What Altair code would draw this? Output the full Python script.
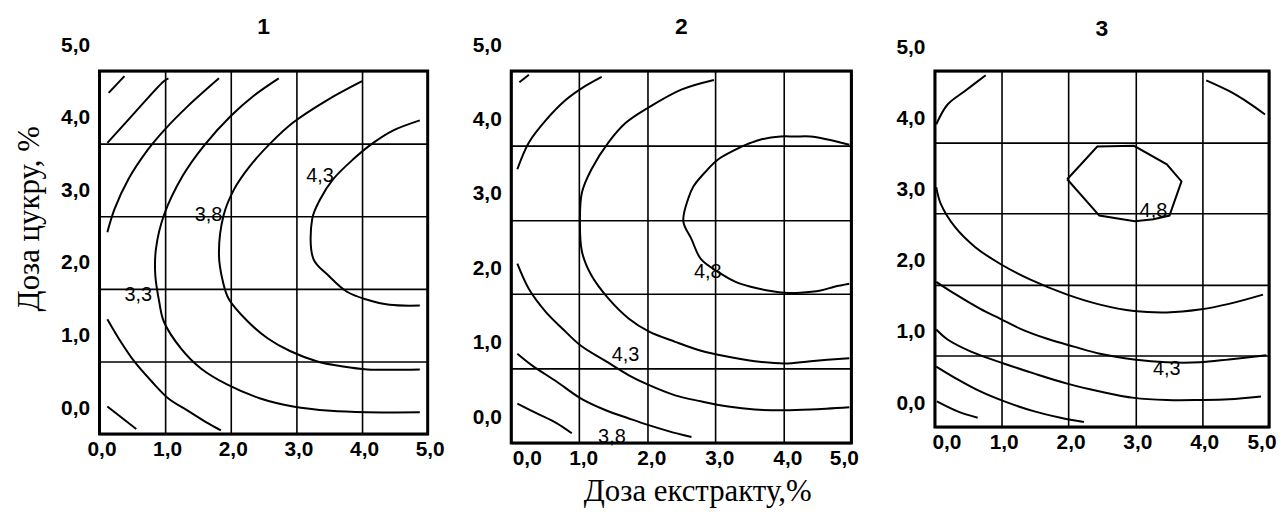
import altair as alt
import pandas as pd

TICKS = [0, 1, 2, 3, 4, 5]

# ---------- panel 1 contour lines (x = extract dose, y = position in plot box) ----------
P1_C1 = [(0.14, 4.70), (0.38, 4.93)]
P1_C2 = [(0.12, 4.01), (0.53, 4.42), (0.98, 4.86), (1.05, 4.90)]
P1_C3 = [(0.12, 2.78), (0.23, 3.10), (0.44, 3.51), (0.74, 3.92), (0.98, 4.18), (1.35, 4.52), (1.82, 4.90)]
P1_C4 = [(2.73, 4.90), (2.35, 4.66), (2.00, 4.38), (1.59, 3.97), (1.27, 3.56), (0.98, 3.01), (0.86, 2.55),
         (0.85, 2.19), (0.91, 1.82), (0.98, 1.55), (1.24, 1.18), (1.55, 0.90), (1.95, 0.68), (2.45, 0.49),
         (2.95, 0.38), (3.52, 0.32), (4.07, 0.30), (4.88, 0.30)]
P1_C5 = [(4.00, 4.86), (3.47, 4.60), (2.95, 4.29), (2.61, 4.01), (2.30, 3.70), (2.05, 3.37), (1.89, 3.01),
         (1.82, 2.47), (1.88, 2.10), (1.97, 1.86), (2.26, 1.55), (2.56, 1.32), (2.91, 1.14), (3.32, 1.00),
         (3.71, 0.93), (4.08, 0.89), (4.88, 0.89)]
P1_C6 = [(4.88, 4.32), (4.47, 4.18), (4.17, 4.01), (3.86, 3.78), (3.56, 3.51), (3.36, 3.23), (3.24, 2.96),
         (3.26, 2.41), (3.48, 2.19), (3.77, 1.96), (4.08, 1.85), (4.42, 1.78), (4.88, 1.77)]
P1_C7 = [(0.12, 1.58), (0.29, 1.32), (0.53, 1.00), (0.79, 0.73), (1.05, 0.49), (1.35, 0.32), (1.65, 0.15), (1.85, 0.05)]
P1_C8 = [(0.12, 0.38), (0.56, 0.07)]
P1_LABELS = [("3,3", 0.59, 1.91), ("3,8", 1.66, 3.01), ("4,3", 3.36, 3.55)]

# ---------- panel 2 ----------
P2_C1 = [(0.12, 4.85), (0.26, 4.95)]
P2_C2 = [(0.09, 3.68), (0.26, 4.04), (0.51, 4.34), (0.80, 4.61), (1.04, 4.77), (1.33, 4.92)]
P2_C3 = [(2.98, 4.88), (2.50, 4.75), (2.02, 4.51), (1.68, 4.30), (1.43, 4.04), (1.18, 3.68), (1.04, 3.37),
         (1.01, 3.01), (1.04, 2.57), (1.18, 2.25), (1.43, 1.94), (1.73, 1.67), (2.02, 1.50), (2.41, 1.36),
         (2.79, 1.24), (3.19, 1.16), (3.58, 1.10), (4.02, 1.07), (4.40, 1.10), (4.97, 1.14)]
P2_C4 = [(0.09, 2.41), (0.26, 2.07), (0.51, 1.76), (0.75, 1.54), (1.02, 1.31), (1.39, 1.10), (1.73, 0.91),
         (2.02, 0.78), (2.41, 0.64), (2.79, 0.56), (3.19, 0.49), (3.58, 0.45), (4.02, 0.44), (4.40, 0.45), (4.97, 0.48)]
P2_C5 = [(0.09, 1.20), (0.31, 1.04), (0.66, 0.83), (1.02, 0.60), (1.39, 0.44), (1.73, 0.33), (2.02, 0.24),
         (2.31, 0.16), (2.65, 0.08)]
P2_C6 = [(0.09, 0.53), (0.37, 0.40), (0.66, 0.27), (0.89, 0.13)]
P2_C7 = [(4.97, 4.01), (4.65, 4.08), (4.40, 4.12), (4.17, 4.12), (3.96, 4.12), (3.67, 4.08), (3.48, 4.02),
         (3.29, 3.94), (3.04, 3.81), (2.85, 3.64), (2.68, 3.45), (2.60, 3.28), (2.53, 2.98), (2.65, 2.74),
         (2.79, 2.47), (3.04, 2.30), (3.29, 2.17), (3.52, 2.10), (3.77, 2.05), (4.02, 2.02), (4.25, 2.02),
         (4.55, 2.05), (4.75, 2.10), (4.97, 2.14)]
P2_LABELS = [("4,8", 2.89, 2.30), ("4,3", 1.68, 1.18), ("3,8", 1.48, 0.08)]

# ---------- panel 3 ----------
P3_C1 = [(0.02, 4.25), (0.19, 4.53), (0.45, 4.72), (0.76, 4.94)]
P3_C2 = [(4.06, 4.87), (4.40, 4.72), (4.70, 4.55), (4.94, 4.39)]
P3_C3 = [(1.98, 3.48), (2.43, 3.94), (2.98, 3.95), (3.47, 3.69), (3.69, 3.45), (3.51, 2.97), (3.27, 2.92),
         (2.99, 2.89), (2.46, 2.97), (1.98, 3.48)]
P3_C4 = [(0.02, 3.37), (0.09, 3.13), (0.30, 2.81), (0.60, 2.53), (0.98, 2.29), (1.43, 2.07), (1.98, 1.86),
         (2.47, 1.72), (2.98, 1.63), (3.47, 1.61), (3.96, 1.65), (4.40, 1.73), (4.91, 1.86)]
P3_C5 = [(0.02, 2.04), (0.30, 1.87), (0.68, 1.66), (0.98, 1.52), (1.28, 1.38), (1.68, 1.24), (2.08, 1.13),
         (2.47, 1.03), (2.98, 0.95), (3.47, 0.91), (3.96, 0.91), (4.40, 0.95), (4.96, 1.01)]
P3_C6 = [(0.02, 1.37), (0.19, 1.23), (0.54, 1.06), (1.04, 0.89), (1.49, 0.75), (1.98, 0.61), (2.47, 0.50),
         (2.98, 0.41), (3.47, 0.38), (3.96, 0.38), (4.40, 0.39), (4.88, 0.43)]
P3_C7 = [(0.02, 0.85), (0.34, 0.67), (0.68, 0.50), (1.04, 0.36), (1.49, 0.22), (1.88, 0.13), (2.23, 0.07)]
P3_C8 = [(0.03, 0.36), (0.34, 0.22), (0.64, 0.13)]
P3_LABELS = [("4,8", 3.27, 3.04), ("4,3", 3.47, 0.82)]

Y_TITLE = "Доза цукру, %"
X_TITLE = "Доза екстракту,%"
LABEL_EXPR = "replace(format(datum.value, '.1f'), '.', ',')"


def curves_df(curves):
    rows = []
    for cid, pts in enumerate(curves):
        for i, (x, y) in enumerate(pts):
            rows.append({"c": cid, "i": i, "x": x, "y": y})
    return pd.DataFrame(rows)


def labels_df(labels):
    return pd.DataFrame([{"t": t, "x": x, "y": y} for t, x, y in labels])


def make_panel(smooth, poly, labels, w, h, num, xkw, ykw):
    common = dict(values=TICKS, labelExpr=LABEL_EXPR, labelFont="Liberation Sans", labelFontSize=21,
                  labelFontWeight="bold", labelColor="black", grid=True, gridColor="black", gridWidth=1.6,
                  gridOpacity=1, ticks=False, tickSize=0, domain=False, labelOverlap=False,
                  titleFont="Liberation Serif", titleFontSize=31, titleFontWeight="normal", titleColor="black")
    xaxis = dict(common, labelPadding=5)
    xaxis.update(xkw)
    yaxis = dict(common, labelPadding=10)
    yaxis.update(ykw)
    xenc = alt.X("x:Q", scale=alt.Scale(domain=[0, 5], nice=False, zero=False), axis=alt.Axis(**xaxis))
    yenc = alt.Y("y:Q", scale=alt.Scale(domain=[0, 5], nice=False, zero=False), axis=alt.Axis(**yaxis))
    layers = []
    if smooth:
        layers.append(alt.Chart(curves_df(smooth)).mark_line(
            color="black", strokeWidth=2, interpolate="catmull-rom", clip=True).encode(
            x=xenc, y=yenc, detail="c:N", order="i:Q"))
    if poly:
        layers.append(alt.Chart(curves_df(poly)).mark_line(
            color="black", strokeWidth=2, clip=True).encode(
            x=xenc, y=yenc, detail="c:N", order="i:Q"))
    layers.append(alt.Chart(labels_df(labels)).mark_text(
        font="Liberation Sans", fontSize=20, color="black", align="center", baseline="middle").encode(
        x=xenc, y=yenc, text="t:N"))
    return alt.layer(*layers).properties(
        width=w, height=h,
        title=alt.TitleParams(text=num, font="Liberation Sans", fontSize=23, fontWeight="bold",
                              color="black", anchor="middle", frame="group", offset=0, dy=5))


p1 = make_panel([P1_C1, P1_C2, P1_C3, P1_C4, P1_C5, P1_C6, P1_C7, P1_C8], None, P1_LABELS,
                330, 365, "1",
                dict(title=None, labelFlush=False, labelOffset=2),
                dict(title=Y_TITLE, labelOffset=-26, titlePadding=15, titleY=148))
p2 = make_panel([P2_C1, P2_C2, P2_C3, P2_C4, P2_C5, P2_C6, P2_C7], None, P2_LABELS,
                342, 374, "2",
                dict(title=X_TITLE, labelFlush=True, labelFlushOffset=3, labelOffset=4,
                     titleX=187, titlePadding=8),
                dict(title=None, labelOffset=-26))
p3 = make_panel([P3_C1, P3_C2, P3_C4, P3_C5, P3_C6, P3_C7, P3_C8], [P3_C3], P3_LABELS,
                336, 358, "3",
                dict(title=None, labelFlush=True, labelFlushOffset=5, labelOffset=2),
                dict(title=None, labelOffset=-24))

chart = alt.hconcat(p1, p2, p3, spacing=84, bounds="flush").properties(
    padding={"left": 4, "top": 5, "right": 0, "bottom": 0},
    background="white",
).configure_view(stroke="black", strokeWidth=3)

chart.save("out.html", embed_options={"renderer": "svg", "actions": False})
